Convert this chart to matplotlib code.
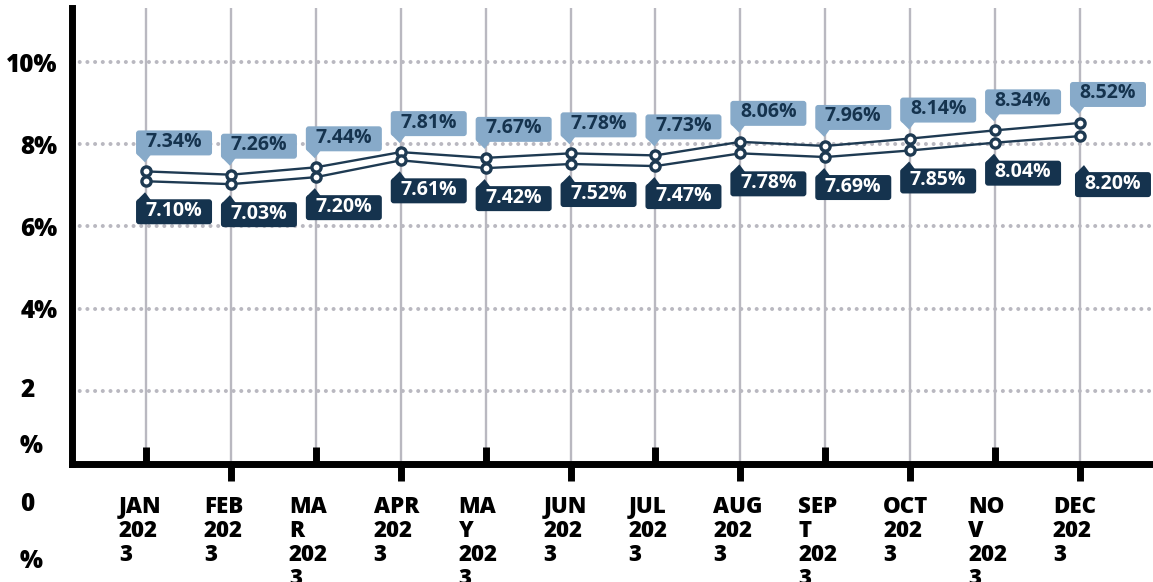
import matplotlib
matplotlib.use('Agg')
import matplotlib.pyplot as plt
from matplotlib.patches import FancyBboxPatch, Polygon
from matplotlib import transforms

plt.rcParams['font.family'] = ['Open Sans', 'DejaVu Sans']
plt.rcParams['font.weight'] = 'heavy'

# data
months = ['JAN\n202\n3', 'FEB\n202\n3', 'MA\nR\n202\n3', 'APR\n202\n3', 'MA\nY\n202\n3',
          'JUN\n202\n3', 'JUL\n202\n3', 'AUG\n202\n3', 'SEP\nT\n202\n3', 'OCT\n202\n3',
          'NO\nV\n202\n3', 'DEC\n202\n3']
upper = [7.34, 7.26, 7.44, 7.81, 7.67, 7.78, 7.73, 8.06, 7.96, 8.14, 8.34, 8.52]
lower = [7.10, 7.03, 7.20, 7.61, 7.42, 7.52, 7.47, 7.78, 7.69, 7.85, 8.04, 8.20]
grid_vals = [2, 4, 6, 8, 10]
grid_text = ['', '4%', '6%', '8%', '10%']

NAVY = '#15334e'
LINE = '#1e3a52'
LIGHT = '#87aac9'
GRID = '#b9b8c0'

W, H = 1153, 582
fig = plt.figure(figsize=(W / 100, H / 100), dpi=100)
ax = fig.add_axes([72 / W, 118 / H, 1 - 72 / W, 456 / H])

x = list(range(len(months)))
ax.set_xlim(-0.872, 11.86)
ax.set_ylim(0.214, 11.32)

# grid
for v in grid_vals:
    ax.axhline(v, color=GRID, lw=2.9, linestyle=(0, (0.01, 1.9)),
               dash_capstyle='round', zorder=1)
for i in x:
    ax.axvline(i, color=GRID, lw=1.7, zorder=1)

# series
for ys in (upper, lower):
    ax.plot(x, ys, color=LINE, lw=1.7, marker='o', ms=6.6, mfc='white',
            mec=LINE, mew=2.4, zorder=3, clip_on=False)

# axes
for s in ['top', 'right']:
    ax.spines[s].set_visible(False)
for s in ['left', 'bottom']:
    ax.spines[s].set_linewidth(5)
    ax.spines[s].set_color('black')
    ax.spines[s].set_capstyle('projecting')
    ax.spines[s].set_zorder(4)

ax.set_xticks(x[0::2])
ax.set_xticks(x[1::2], minor=True)
ax.tick_params(axis='x', which='major', direction='in', length=12, width=5,
               color='black', labelbottom=False)
ax.tick_params(axis='x', which='minor', direction='out', length=12, width=5,
               color='black', labelbottom=False)

ax.set_yticks(grid_vals)
ax.set_yticklabels(grid_text)
ax.tick_params(axis='y', length=0, pad=10.5, labelsize=17.5)

# odd wrapped y labels
for s, yv, dy in [('2', 2, 0), ('%', 2, -56), ('0', 0, -32), ('%', 0, -89)]:
    ax.annotate(s, xy=(0, yv), xycoords=('axes fraction', 'data'), xytext=(-52, dy),
                textcoords='offset pixels', ha='left', va='center', fontsize=17.5,
                annotation_clip=False)

# x labels
for i, m in zip(x, months):
    ax.annotate(m, xy=(i, 0), xycoords=('data', 'axes fraction'), xytext=(-27, -31),
                textcoords='offset pixels', ha='left', va='top', fontsize=16,
                linespacing=1.0, annotation_clip=False)


def tag(i, v, fc, tc, above, dx=-10, gap=16):
    px, py = ax.transData.transform((i, v))
    w, h = 76, 25
    x0 = px + dx
    if above:
        y0 = py + gap
        tri = [(x0 + 1, y0 + 1), (x0 + 15, y0 + 1), (x0 + 9, y0 - 7)]
    else:
        y0 = py - gap - h
        tri = [(x0 + 1, y0 + h - 1), (x0 + 15, y0 + h - 1), (x0 + 9, y0 + h + 7)]
    ident = transforms.IdentityTransform()
    fig.add_artist(FancyBboxPatch((x0, y0), w, h, boxstyle='round,pad=0,rounding_size=3',
                                  fc=fc, ec='none', transform=ident, zorder=5))
    fig.add_artist(Polygon(tri, closed=True, fc=fc, ec='none', transform=ident, zorder=5))
    fig.text(x0 + w / 2, y0 + h / 2 + 1, '%.2f%%' % v, transform=ident, ha='center',
             va='center', color=tc, fontsize=14, fontweight='bold', zorder=6)


for i, v in zip(x, upper):
    tag(i, v, LIGHT, NAVY, True)
for i, v in zip(x, lower):
    if i == x[-1]:
        tag(i, v, NAVY, 'white', False, dx=-5, gap=36)
    else:
        tag(i, v, NAVY, 'white', False, gap=18)

fig.savefig('out.png', dpi=100)
